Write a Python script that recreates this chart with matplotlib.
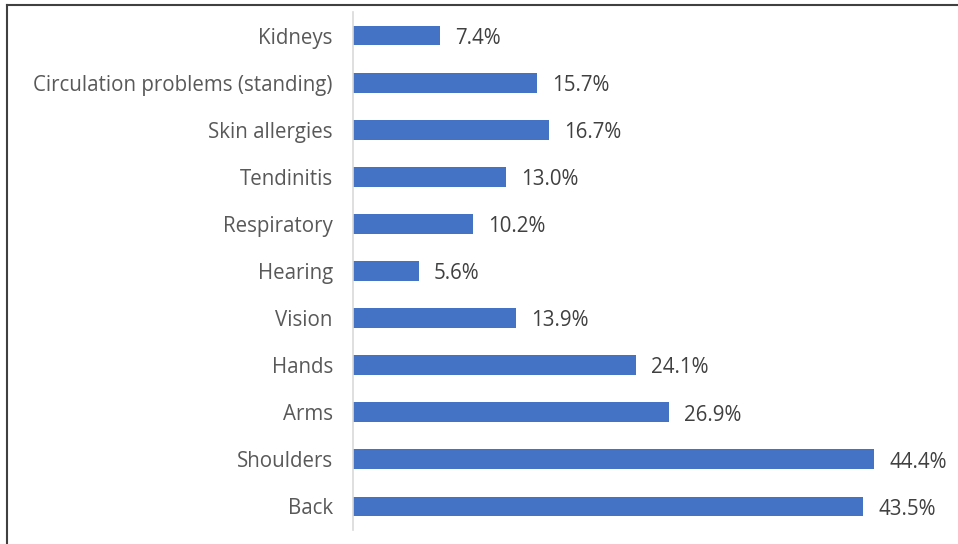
import matplotlib
matplotlib.use("Agg")
import matplotlib.pyplot as plt
from matplotlib.lines import Line2D

categories = ["Kidneys", "Circulation problems (standing)", "Skin allergies", "Tendinitis",
              "Respiratory", "Hearing", "Vision", "Hands", "Arms", "Shoulders", "Back"]
values = [7.4, 15.7, 16.7, 13.0, 10.2, 5.6, 13.9, 24.1, 26.9, 44.4, 43.5]
value_labels = ["7.4%", "15.7%", "16.7%", "13.0%", "10.2%", "5.6%", "13.9%",
                "24.1%", "26.9%", "44.4%", "43.5%"]

plt.rcParams['font.family'] = ['Open Sans', 'DejaVu Sans']

fig = plt.figure(figsize=(9.58, 5.44), dpi=100)
ax = fig.add_axes([353/958, 1-530/544, (939.6-353)/958, (530-12)/544])

ypos = list(range(len(categories)))
ax.barh(ypos, values, height=0.42, color="#4472C4")
ax.set_ylim(len(categories)-0.5, -0.5)
ax.set_xlim(0, 50)
ax.set_yticks(ypos)
ax.set_yticklabels(categories, fontsize=14.8, color="#595959")
ax.tick_params(axis='y', length=0, pad=14.5)
ax.set_xticks([])
for s in ["top", "right", "bottom"]:
    ax.spines[s].set_visible(False)
ax.spines["left"].set_color("#D9D9D9")
ax.spines["left"].set_linewidth(1.2)

for y, v, lab in zip(ypos, values, value_labels):
    ax.annotate(lab, (v, y), xytext=(11, -2), textcoords="offset points",
                va="center", ha="left", fontsize=14.8, color="#404040")

fig.add_artist(Line2D([7/958, 7/958], [0, 1-5/544], transform=fig.transFigure,
                      color="#404040", lw=1.5))
fig.add_artist(Line2D([7/958, 1], [1-5/544, 1-5/544], transform=fig.transFigure,
                      color="#404040", lw=1.5))

fig.savefig("out.png", dpi=100)
